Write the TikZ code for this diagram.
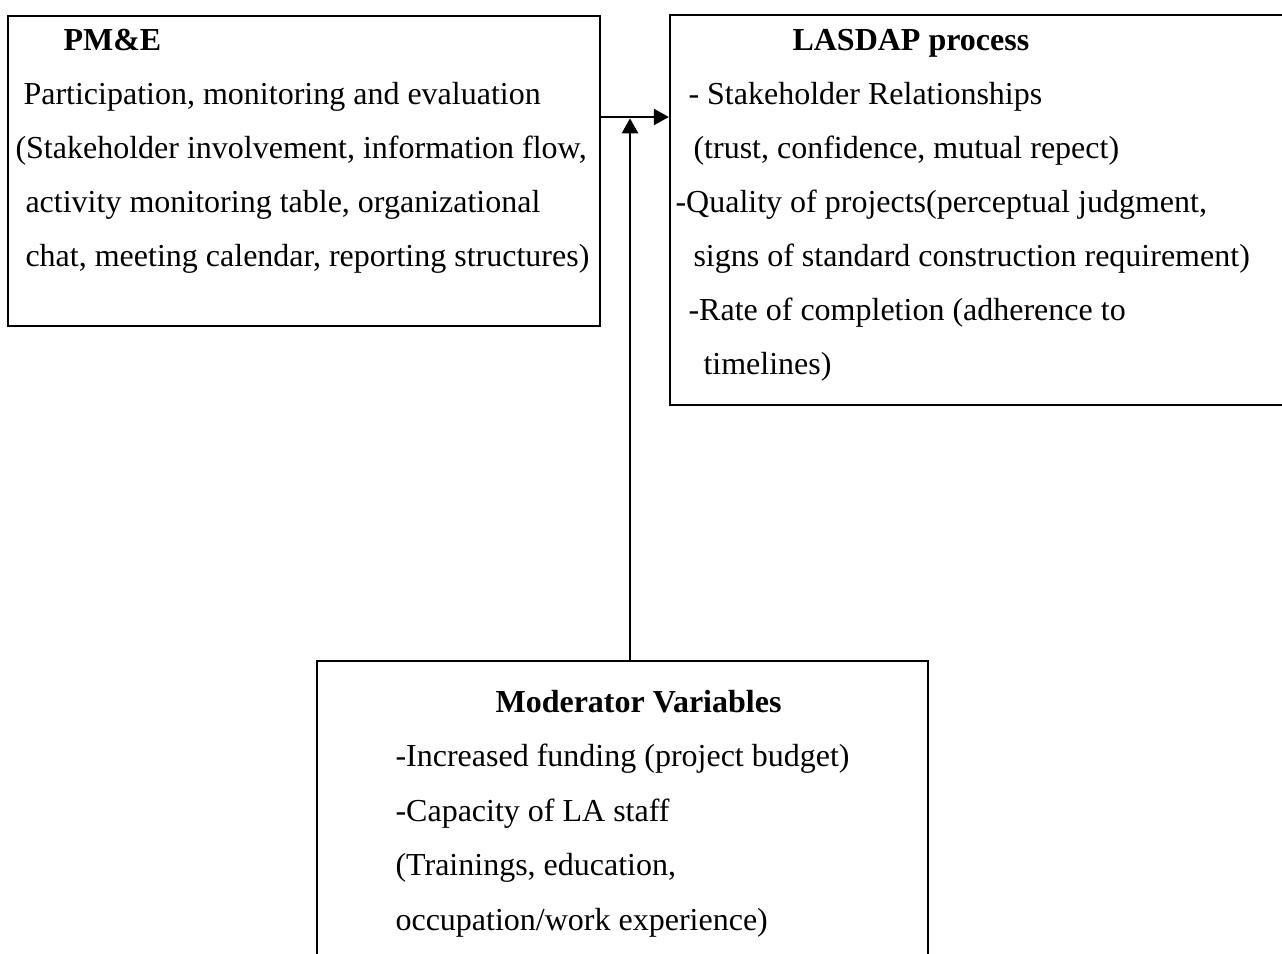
\documentclass[tikz,border=0pt]{standalone}
\usepackage{fontspec}
\setmainfont{Liberation Serif}
\usetikzlibrary{arrows.meta}

\tikzset{
	box/.style={draw, line width=0.9pt, inner sep=0pt},
	txt/.style={anchor=base west, inner sep=0pt, font=\fontsize{12}{14}\selectfont},
	head/.style={txt, font=\fontsize{12}{14}\selectfont\bfseries},
	pfeil/.style={line width=0.9pt, -{Triangle[length=5.6pt,width=6pt]}}
}

\begin{document}
\begin{tikzpicture}[x=0.375pt, y=-0.375pt]
	\clip (0, 0) rectangle (1282, 953);
	% Kaesten
	\node[box, minimum width=222pt, minimum height=116.25pt] (pme) at (304, 171) {};
	\node[box, minimum width=236.25pt, minimum height=146.25pt] (lasdap) at (985, 210) {};
	\node[box, minimum width=229.125pt, minimum height=119.625pt] (mod) at (622.5, 820.5) {};

	% PM&E
	\node[head] (pmeT) at (63, 50) {PM\&E};
	\node[txt] (pme1) at (23, 104) {Participation, monitoring and evaluation};
	\node[txt] (pme2) at (15, 158) {(Stakeholder involvement, information flow,};
	\node[txt] (pme3) at (25, 212) {activity monitoring table, organizational};
	\node[txt] (pme4) at (25, 266) {chat, meeting calendar, reporting structures)};

	% LASDAP
	\node[head] (lasT) at (792, 50) {LASDAP process};
	\node[txt] (las1) at (688, 104) {- Stakeholder Relationships};
	\node[txt] (las2) at (693, 158) {(trust, confidence, mutual repect)};
	\node[txt] (las3) at (675, 212) {-Quality of projects(perceptual judgment,};
	\node[txt] (las4) at (693, 266) {signs of standard construction requirement)};
	\node[txt] (las5) at (688, 320) {-Rate of completion (adherence to};
	\node[txt] (las6) at (703, 374) {timelines)};

	% Moderator
	\node[head] (modT) at (495, 712) {Moderator Variables};
	\node[txt] (mod1) at (395, 766.5) {-Increased funding (project budget)};
	\node[txt] (mod2) at (395, 821) {-Capacity of LA staff};
	\node[txt] (mod3) at (395, 875.5) {(Trainings, education,};
	\node[txt] (mod4) at (395, 930) {occupation/work experience)};

	% Pfeile
	\coordinate (knick) at (630, 117);
	\draw[pfeil] (pme.east |- knick) -- (lasdap.west |- knick);
	\draw[pfeil] (mod.north -| knick) -- ([yshift=-0.5pt]knick);
\end{tikzpicture}
\end{document}
